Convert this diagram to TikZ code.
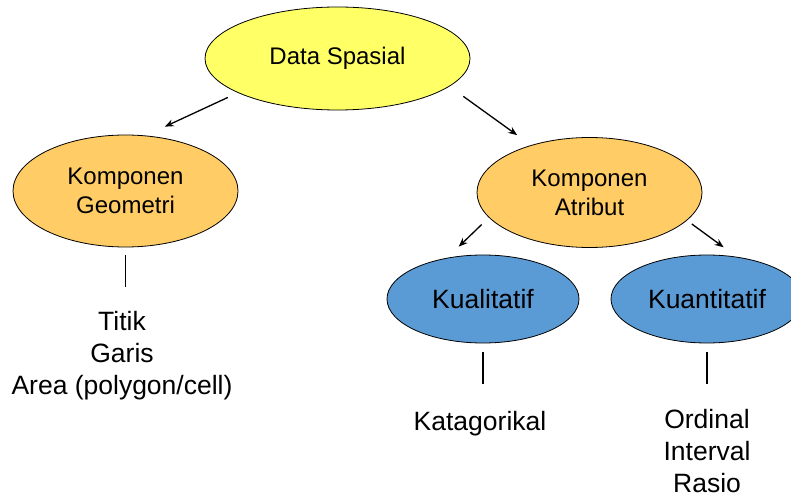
\documentclass[tikz,border=0pt]{standalone}
\usepackage{fontspec}
\setmainfont{Liberation Sans}
\usetikzlibrary{shapes.geometric,arrows.meta}
\definecolor{dsyellow}{RGB}{255,255,102}
\definecolor{korange}{RGB}{255,204,102}
\definecolor{kblue}{RGB}{91,155,213}
\tikzset{
	blob/.style={ellipse,draw=black,line width=0.8pt,inner sep=0pt,align=center,font=\fontsize{24}{29}\selectfont},
	arr/.style={line width=1.3pt,-{Stealth[length=9pt,width=7pt]}},
	stem/.style={line width=1.6pt},
	list/.style={inner sep=0pt,align=center,anchor=base,font=\fontsize{26.5}{32}\selectfont}
}
\begin{document}
\begin{tikzpicture}[x=1pt,y=-1pt]
\useasboundingbox (0,0) rectangle (791,497);
\node[blob,fill=dsyellow,minimum width=265pt,minimum height=103pt] (ds) at (337.5,58.5) {Data Spasial};
\node[blob,fill=korange,minimum width=225pt,minimum height=112pt] (kg) at (125.5,191) {Komponen\\Geometri};
\node[blob,fill=korange,minimum width=225pt,minimum height=110pt] (ka) at (589.5,192.5) {Komponen\\Atribut};
\node[blob,fill=kblue,minimum width=192pt,minimum height=88pt,font=\fontsize{26.5}{29}\selectfont] (kl) at (483,299) {Kualitatif};
\node[blob,fill=kblue,minimum width=192pt,minimum height=88pt,font=\fontsize{26.5}{29}\selectfont] (kn) at (707,299) {Kuantitatif};
\node[list] (geo) at (122,394) {Titik\\Garis\\Area (polygon/cell)};
\node[list] (kat) at (480,430) {Katagorikal};
\node[list] (ord) at (707,492) {Ordinal\\Interval\\Rasio};
\draw[arr,shorten <=11pt,shorten >=21pt] (ds.199.5) -- (kg.70.3);
\draw[arr,shorten <=17pt,shorten >=17pt] (ds.346.2) -- (ka.141);
\draw[arr,shorten <=10pt,shorten >=16pt] (ka.194.1) -- (kl.131);
\draw[arr,shorten <=6pt,shorten >=16pt] (ka.344.3) -- (kn.55.4);
\foreach \n/\gap in {kg/8,kl/9,kn/9}{
	\draw[stem] (\n.south) ++(0,\gap) -- ++(0,32);}
\end{tikzpicture}
\end{document}
